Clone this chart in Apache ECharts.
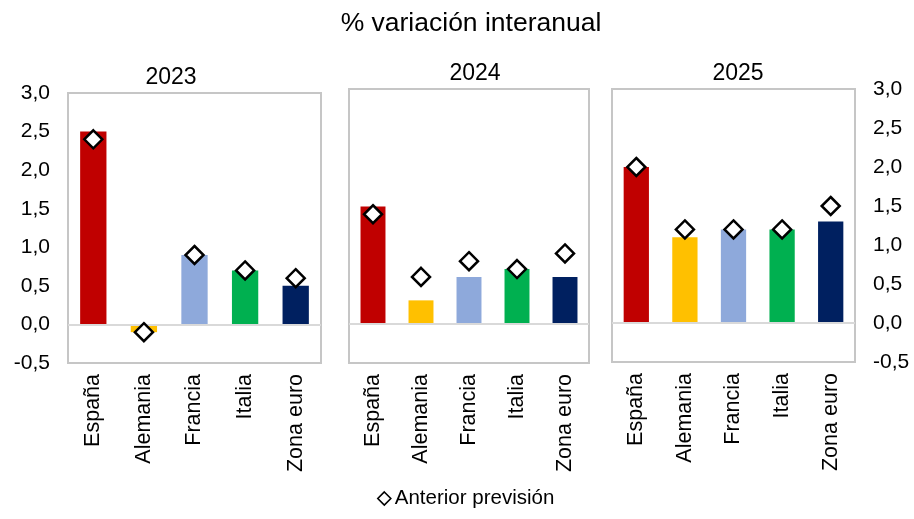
<!DOCTYPE html>
<html>
<head>
<meta charset="utf-8">
<script src="https://cdn.jsdelivr.net/npm/echarts@6/dist/echarts.min.js"></script>
<style>
  html, body { margin: 0; padding: 0; background: #ffffff; }
  #chart { width: 914px; height: 519px; }
</style>
</head>
<body>
<div id="chart"></div>
<script>
// Countries shown in each panel
var categories = ['España', 'Alemania', 'Francia', 'Italia', 'Zona euro'];
var years = ['2023', '2024', '2025'];

// Current forecast (bars), % year-on-year change
var current2023 = [2.5, -0.1, 0.9, 0.7, 0.5];
var current2024 = [1.5, 0.3, 0.6, 0.7, 0.6];
var current2025 = [2.0, 1.1, 1.2, 1.2, 1.3];

// Previous forecast (diamonds)
var previous2023 = [2.4, -0.1, 0.9, 0.7, 0.6];
var previous2024 = [1.4, 0.6, 0.8, 0.7, 0.9];
var previous2025 = [2.0, 1.2, 1.2, 1.2, 1.5];

// Value axis range
var yMin = -0.5, yMax = 3.0, yStep = 0.5;

var barColors = ['#C00000', '#FFC000', '#8EA9DB', '#00B050', '#002060'];
var currentByYear = [current2023, current2024, current2025];
var previousByYear = [previous2023, previous2024, previous2025];

var FONT = '"Liberation Sans", Arial, sans-serif';
var fmt = function (v) { return v.toFixed(1).replace('.', ','); };

var grids = [
  { left: 68, top: 93, width: 253, height: 270 },
  { left: 349, top: 89, width: 240, height: 274 },
  { left: 612, top: 89, width: 243, height: 273 }
];
var titleTops = [61, 57, 57];
var titleCenters = [166, 470, 733];

var option = {
  animation: false,
  backgroundColor: '#ffffff',
  title: [{
    text: '% variación interanual',
    left: 466, top: 5, textAlign: 'center',
    textStyle: { fontFamily: FONT, fontSize: 26.5, fontWeight: 'normal', color: '#000' }
  }].concat(years.map(function (y, i) {
    return {
      text: y, left: titleCenters[i], top: titleTops[i], textAlign: 'center',
      textStyle: { fontFamily: FONT, fontSize: 23, fontWeight: 'normal', color: '#000' }
    };
  })),
  legend: {
    data: [{ name: 'Anterior previsión', icon: 'diamond' }],
    bottom: 5, left: 372,
    itemWidth: 13, itemHeight: 13, itemGap: 10,
    itemStyle: { color: '#ffffff', borderColor: '#000000', borderWidth: 1.6 },
    textStyle: { fontFamily: FONT, fontSize: 20.5, color: '#000', padding: [0, 0, 0, -1] }
  },
  grid: grids.map(function (g) {
    return {
      left: g.left, top: g.top, width: g.width, height: g.height,
      show: true, borderColor: '#c6c6c6', borderWidth: 2, backgroundColor: 'transparent'
    };
  }),
  xAxis: years.map(function (y, i) {
    return {
      type: 'category', gridIndex: i, data: categories,
      axisLine: { show: false, onZero: false }, axisTick: { show: false },
      axisLabel: {
        rotate: 90, margin: 11, interval: 0,
        fontFamily: FONT, fontSize: 21.5, color: '#000'
      }
    };
  }),
  yAxis: years.map(function (y, i) {
    return {
      type: 'value', gridIndex: i, min: yMin, max: yMax, interval: yStep,
      position: i === 2 ? 'right' : 'left',
      axisLine: { show: false }, axisTick: { show: false }, splitLine: { show: false },
      axisLabel: {
        show: i !== 1, margin: 18, formatter: fmt,
        fontFamily: FONT, fontSize: 21, color: '#000'
      }
    };
  }),
  series: []
};

years.forEach(function (y, i) {
  option.series.push({
    type: 'bar', name: 'Previsión ' + y,
    xAxisIndex: i, yAxisIndex: i,
    barWidth: '52%',
    data: currentByYear[i].map(function (v, k) {
      return { value: v, itemStyle: { color: barColors[k] } };
    }),
    markLine: {
      silent: true, symbol: 'none', label: { show: false },
      lineStyle: { color: '#d9d9d9', width: 2, type: 'solid' },
      data: [{ yAxis: 0 }]
    },
    z: 2
  });
});
years.forEach(function (y, i) {
  option.series.push({
    type: 'scatter', name: 'Anterior previsión',
    xAxisIndex: i, yAxisIndex: i,
    symbol: 'diamond', symbolSize: [18, 18],
    itemStyle: { color: '#ffffff', borderColor: '#000000', borderWidth: 2.5, opacity: 1 },
    data: previousByYear[i],
    z: 5
  });
});

var chart = echarts.init(document.getElementById('chart'), null, { renderer: 'canvas' });
chart.setOption(option);
</script>
</body>
</html>
